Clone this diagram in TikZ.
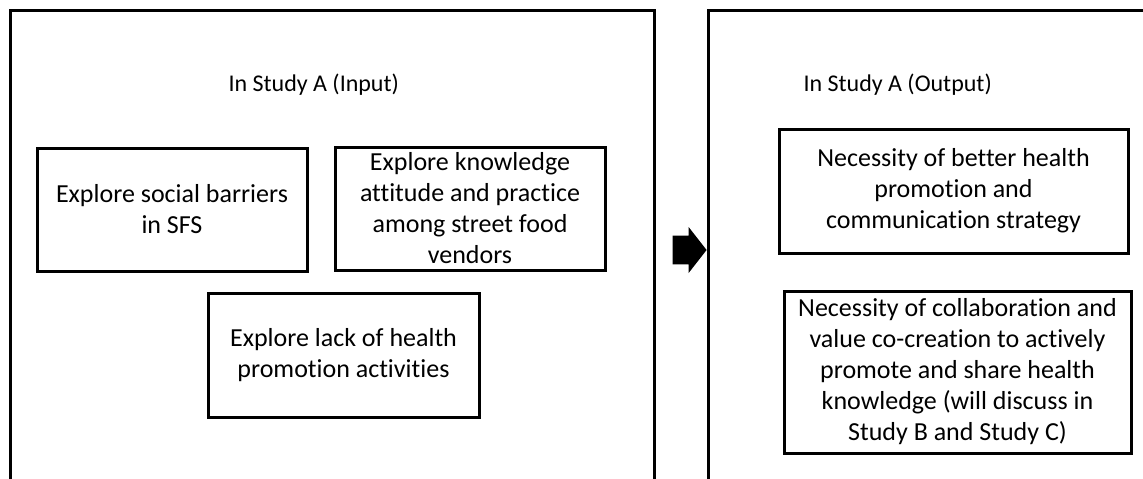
\documentclass[tikz,border=0pt]{standalone}
\usepackage{fontspec}
\setmainfont{Carlito}[Ligatures=NoCommon]
\usepackage{tikz}
\usetikzlibrary{positioning,shapes.arrows}

\begin{document}
\begin{tikzpicture}[x=1pt,y=-1pt,
    box/.style={draw,line width=3pt,align=center,inner sep=0pt,font=\fontsize{26}{31}\selectfont},
    frame/.style={draw,line width=3pt,inner sep=0pt},
    title/.style={anchor=base west,font=\fontsize{24}{29}\selectfont}]
    \useasboundingbox (0,0) rectangle (1143,479);
    \clip (0,0) rectangle (1143,479);
    % outer panels
    \node[frame,minimum width=644,minimum height=520] (input) at (332,270) {};
    \node[frame,minimum width=480,minimum height=520] (output) at (948,270) {};
    \node[title] (intitle) at (225,91) {In Study A (Input)};
    \node[title] (outtitle) at (800,91) {In Study A (Output)};
    % input side
    \node[box,minimum width=270,minimum height=123] (barriers) at (172,209.5) {Explore social barriers\\in SFS};
    \node[box,minimum width=270,minimum height=123] (kap) at (470,208.5) {Explore knowledge\\attitude and practice\\among street food\\vendors};
    \node[box,minimum width=271,minimum height=124] (lack) at (343.5,355) {Explore lack of health\\promotion activities};
    % output side
    \node[box,minimum width=349,minimum height=124] (better) at (953.5,191) {Necessity of better health\\promotion and\\communication strategy};
    \node[box,minimum width=347,minimum height=162] (collab) at (957.5,372) {Necessity of collaboration and\\value co-creation to actively\\promote and share health\\knowledge (will discuss in\\Study B and Study C)};
    % arrow between panels
    \node[single arrow,fill=black,inner xsep=0pt,inner ysep=11.5pt,minimum height=34,minimum width=46,single arrow tip angle=104] (go) at (684,250) {};
\end{tikzpicture}
\end{document}
